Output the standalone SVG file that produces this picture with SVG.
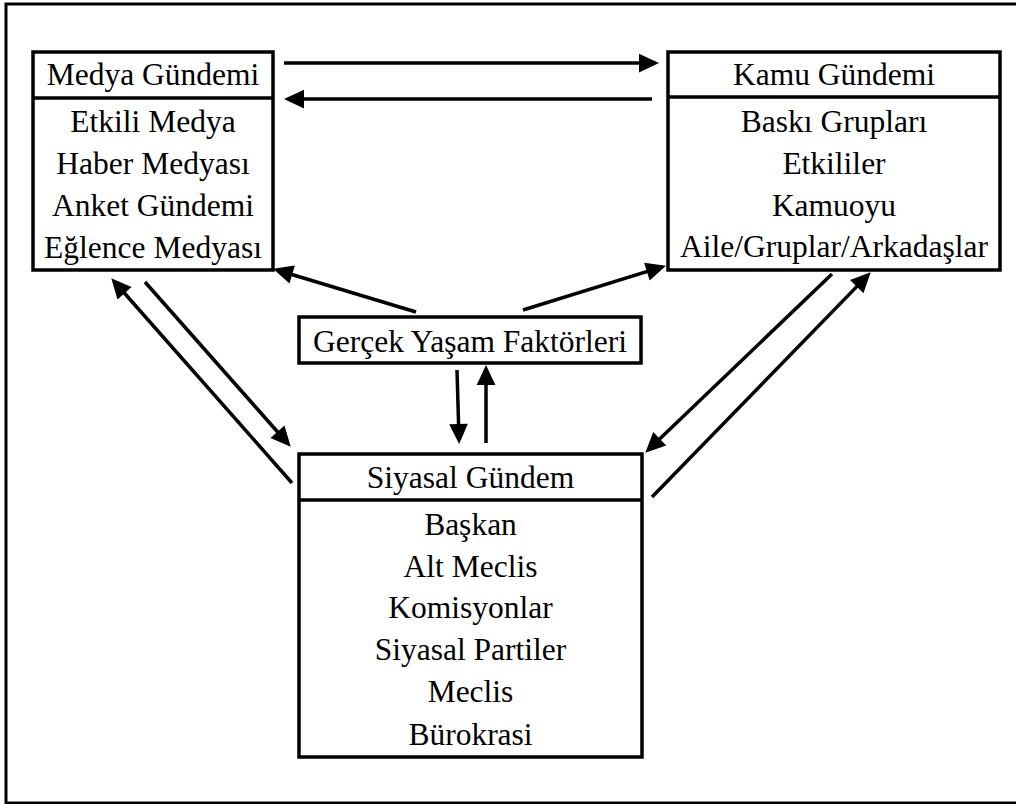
<svg xmlns="http://www.w3.org/2000/svg" width="1016" height="804" viewBox="0 0 1016 804">
<defs>
<style>
.box{fill:#fff;stroke:#000;stroke-width:3.5}
.div{stroke:#000;stroke-width:3.5}
.t{font-family:"Liberation Serif","Times New Roman",serif;font-size:31.5px;fill:#000;text-anchor:middle}
.c{stroke:#000;stroke-width:3.5;fill:none;marker-end:url(#ah)}
</style>
<marker id="ah" markerUnits="userSpaceOnUse" markerWidth="20" markerHeight="20" refX="12" refY="0" viewBox="0 -8 16 16" orient="auto" overflow="visible">
<path d="M0,-7.5 L16,0 L0,7.5 Z" fill="#000"/>
</marker>
</defs>
<rect x="0" y="0" width="1016" height="804" fill="#fff"/>
<path d="M1020,4 H6 V803 H1020" fill="none" stroke="#000" stroke-width="3"/>
<g id="medya">
<rect class="box" x="33" y="52" width="240" height="218"/>
<line class="div" x1="33" y1="98" x2="273" y2="98"/>
<text class="t" x="153" y="85">Medya Gündemi</text>
<text class="t" x="153" y="132">Etkili Medya</text>
<text class="t" x="153" y="174">Haber Medyası</text>
<text class="t" x="153" y="216">Anket Gündemi</text>
<text class="t" x="153" y="258">Eğlence Medyası</text>
</g>
<g id="kamu">
<rect class="box" x="668" y="52" width="332" height="218"/>
<line class="div" x1="668" y1="97" x2="1000" y2="97"/>
<text class="t" x="834" y="85">Kamu Gündemi</text>
<text class="t" x="834" y="132">Baskı Grupları</text>
<text class="t" x="834" y="174">Etkililer</text>
<text class="t" x="834" y="216">Kamuoyu</text>
<text class="t" x="834" y="257">Aile/Gruplar/Arkadaşlar</text>
</g>
<g id="gercek">
<rect class="box" x="299" y="317" width="342" height="46"/>
<text class="t" x="470" y="352">Gerçek Yaşam Faktörleri</text>
</g>
<g id="siyasal">
<rect class="box" x="299" y="454" width="343" height="303"/>
<line class="div" x1="299" y1="500" x2="642" y2="500"/>
<text class="t" x="470.5" y="488">Siyasal Gündem</text>
<text class="t" x="470.5" y="535">Başkan</text>
<text class="t" x="470.5" y="577">Alt Meclis</text>
<text class="t" x="470.5" y="618">Komisyonlar</text>
<text class="t" x="470.5" y="660">Siyasal Partiler</text>
<text class="t" x="470.5" y="702">Meclis</text>
<text class="t" x="470.5" y="745">Bürokrasi</text>
</g>
<g id="connectors">
<line class="c" x1="284" y1="63" x2="654" y2="63"/>
<line class="c" x1="652" y1="99" x2="289" y2="99"/>
<line class="c" x1="292" y1="483" x2="114.6" y2="282"/>
<line class="c" x1="145" y1="282" x2="287.4" y2="443"/>
<line class="c" x1="832" y1="274" x2="648.9" y2="449.2"/>
<line class="c" x1="652" y1="497" x2="867.2" y2="275.9"/>
<line class="c" x1="416" y1="312" x2="277.8" y2="270.2"/>
<line class="c" x1="523" y1="310" x2="661.2" y2="267.2"/>
<line class="c" x1="457" y1="370" x2="459" y2="439"/>
<line class="c" x1="486" y1="443" x2="486" y2="370"/>
</g>
</svg>
